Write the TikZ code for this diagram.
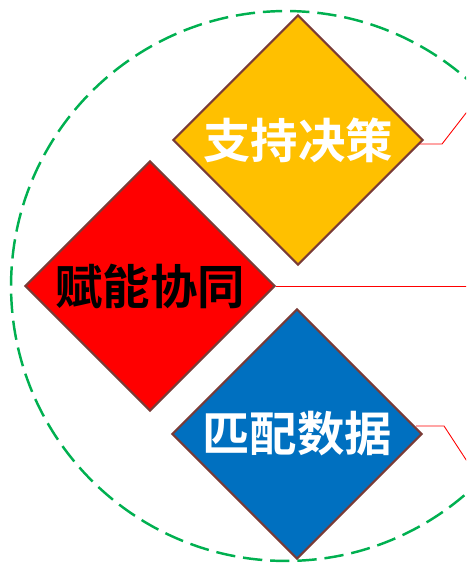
\documentclass[tikz,border=0pt]{standalone}
\usepackage{fontspec}
\usepackage{xcolor}
\usetikzlibrary{shapes.geometric}
\newfontfamily\cjk{Noto Sans CJK SC}[BoldFont={Noto Sans CJK SC Bold}]
\definecolor{ringgreen}{HTML}{00B050}
\definecolor{edgebrown}{HTML}{7A3B36}
\definecolor{boxyellow}{HTML}{FFC000}
\definecolor{boxblue}{HTML}{0070C0}

\begin{document}
\begin{tikzpicture}[
    x=0.02cm, y=-0.02cm,
    diam/.style={diamond, aspect=1, minimum size=5cm, inner sep=0, draw=edgebrown, line width=1.2pt,
        font=\cjk\bfseries\fontsize{27}{32}\selectfont},
    ring/.style={draw=ringgreen, line width=1.4pt, dash pattern=on 11pt off 4.5pt},
    link/.style={draw=red, line width=0.5pt}]
\useasboundingbox (0,0) rectangle (466,563);
\clip (0,0) rectangle (466,563);

\draw[ring] (286,286) circle [radius=5.5cm];

\node[diam, fill=boxyellow, text=white] (decide) at (298,140) {支持决策};
\node[diam, fill=red, text=black] (enable) at (150,286) {赋能协同};
\node[diam, fill=boxblue, text=white] (match) at (297,434) {匹配数据};

\coordinate (decideend) at (480,95);
\coordinate (enableend) at (480,286);
\coordinate (matchend) at (476,475);

\draw[link] (decide.east) ++(-5,4) -- ++(23,0) -- (decideend);
\draw[link] (enable.east) -- (enableend);
\draw[link] (match.east) ++(-7,-8) -- ++(28,0) -- (matchend);
\end{tikzpicture}
\end{document}
